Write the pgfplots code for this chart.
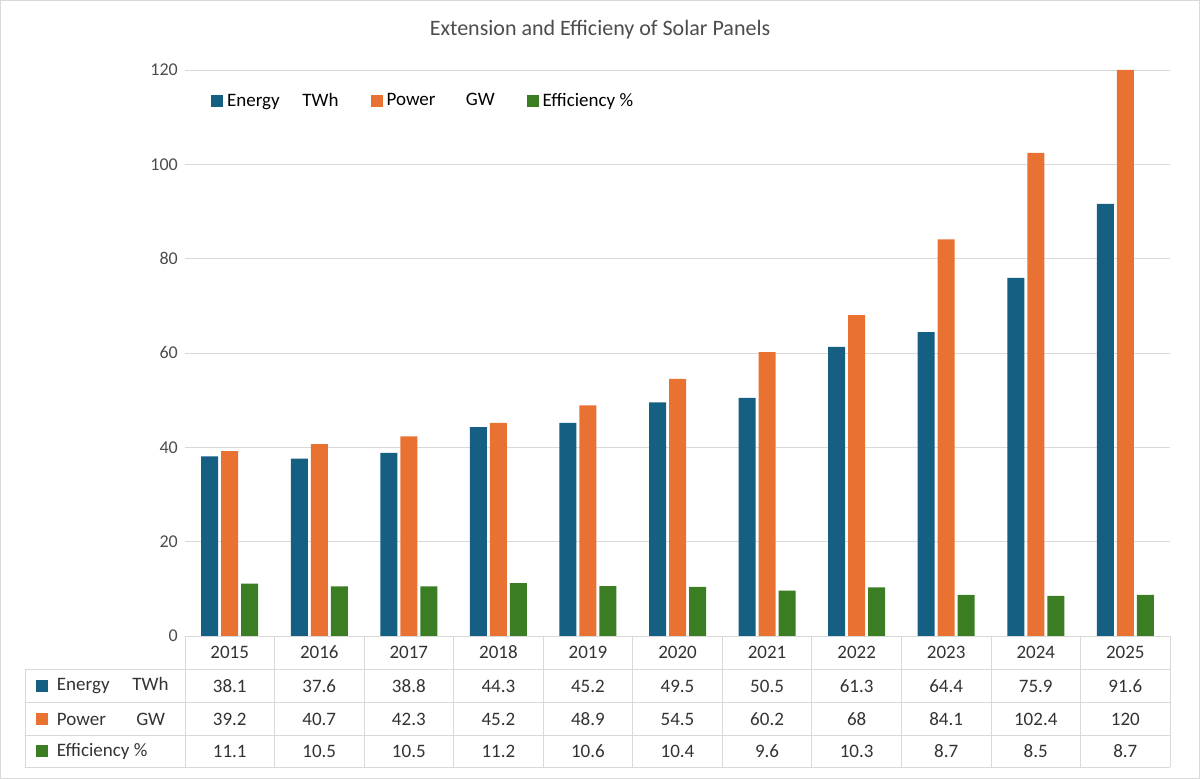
\documentclass[border=0pt]{standalone}
\usepackage{pgfplots}
\pgfplotsset{compat=1.18}
\usepackage{fontspec}
\setmainfont{Carlito}
\definecolor{cE}{HTML}{156082}
\definecolor{cP}{HTML}{E97132}
\definecolor{cF}{HTML}{3B7D23}
\definecolor{grd}{HTML}{D9D9D9}
\begin{document}
\begin{tikzpicture}
\draw[grd] (0.25pt,0.25pt) rectangle (599.75pt,389.25pt);
\begin{axis}[at={(92.5pt,71.5pt)}, anchor=south west, scale only axis,
 width=492.5pt, height=283pt, xmin=-0.5, xmax=10.5, ymin=0, ymax=120,
 ybar=1.5pt, bar width=8.5pt, axis line style={draw=none},
 xtick=\empty, ytick={0,20,...,120}, ymajorgrids, grid style={grd},
 major tick length=0pt, yticklabel style={font=\fontsize{9}{10}\selectfont, text=black!70},
 /pgf/number format/assume math mode=true,
 legend style={at={(0.02,0.945)}, anchor=west, draw=none, fill=none, font=\fontsize{9.5}{11}\selectfont,
   legend columns=3, /tikz/every even column/.append style={column sep=14pt}},
 legend image code/.code={\fill[#1] (0pt,-3pt) rectangle (6pt,3pt);}]
\addplot[fill=cE, draw=none] coordinates {(0,38.1)(1,37.6)(2,38.8)(3,44.3)(4,45.2)(5,49.5)(6,50.5)(7,61.3)(8,64.4)(9,75.9)(10,91.6)};
\addplot[fill=cP, draw=none] coordinates {(0,39.2)(1,40.7)(2,42.3)(3,45.2)(4,48.9)(5,54.5)(6,60.2)(7,68)(8,84.1)(9,102.4)(10,120)};
\addplot[fill=cF, draw=none] coordinates {(0,11.1)(1,10.5)(2,10.5)(3,11.2)(4,10.6)(5,10.4)(6,9.6)(7,10.3)(8,8.7)(9,8.5)(10,8.7)};
\legend{Energy\hspace{1.2em}TWh, Power\hspace{1.6em}GW, Efficiency \%}
\end{axis}
\node[font=\fontsize{11}{13}\selectfont, text=black!70] at (300pt,374.5pt) {Extension and Efficieny of Solar Panels};
% table
\foreach \yy in {55,38.5,22,6} \draw[grd] (12.5pt,\yy pt) -- (585pt,\yy pt);
\draw[grd] (92.5pt,71.5pt) -- (585pt,71.5pt);
\draw[grd] (12.5pt,55pt) -- (12.5pt,6pt);
\foreach \i in {0,...,11} {\pgfmathsetmacro\xx{92.5+44.773*\i}\draw[grd] (\xx pt,71.5pt) -- (\xx pt,6pt);}
\begin{scope}[every node/.style={font=\fontsize{9.5}{11}\selectfont, text=black!80}]
\foreach \i/\yr/\a/\b/\c in {0/2015/38.1/39.2/11.1,1/2016/37.6/40.7/10.5,2/2017/38.8/42.3/10.5,3/2018/44.3/45.2/11.2,4/2019/45.2/48.9/10.6,5/2020/49.5/54.5/10.4,6/2021/50.5/60.2/9.6,7/2022/61.3/68/10.3,8/2023/64.4/84.1/8.7,9/2024/75.9/102.4/8.5,10/2025/91.6/120/8.7}{
 \pgfmathsetmacro\xx{92.5+44.773*(\i+0.5)}
 \node at (\xx pt,63.5pt) {\yr};
 \node at (\xx pt,46.5pt) {\a};
 \node at (\xx pt,30pt) {\b};
 \node at (\xx pt,14pt) {\c};
}
\fill[cE] (18pt,43.5pt) rectangle (24pt,49.5pt);
\fill[cP] (18pt,27pt) rectangle (24pt,33pt);
\fill[cF] (18pt,11pt) rectangle (24pt,17pt);
\node[anchor=west] at (25pt,46.5pt) {Energy\hspace{1.2em}TWh};
\node[anchor=west] at (25pt,30pt) {Power\hspace{1.6em}GW};
\node[anchor=west] at (25pt,14pt) {Efficiency \%};
\end{scope}
\end{tikzpicture}
\end{document}
